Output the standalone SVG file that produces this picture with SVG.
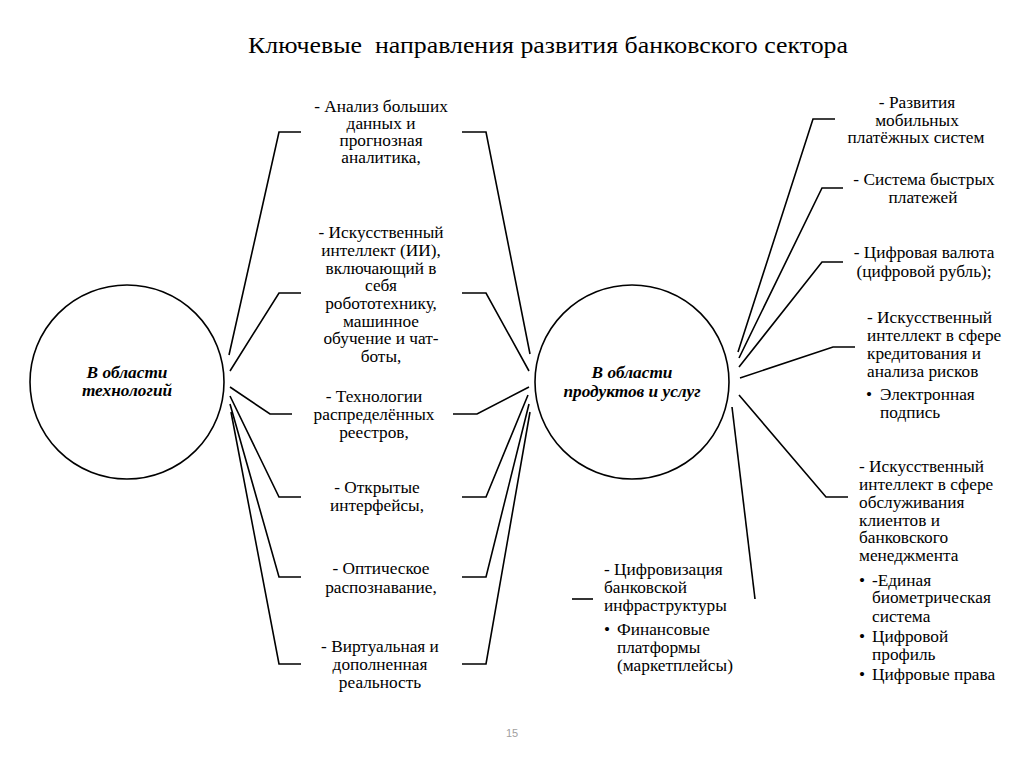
<svg xmlns="http://www.w3.org/2000/svg" width="1024" height="767" viewBox="0 0 1024 767">
<style>
text{font-family:"Liberation Serif","Times New Roman",serif;fill:#000}
.t{font-size:17.3px}
.c{text-anchor:middle}
.h{font-size:17.3px;font-weight:bold;font-style:italic;text-anchor:middle}
.ttl{font-size:24px;text-anchor:middle;white-space:pre}
.pg{font-family:"Liberation Sans",Arial,sans-serif;font-size:11px;fill:#a0a0a0;text-anchor:middle}
.ln{fill:none;stroke:#000;stroke-width:1.6;stroke-linejoin:miter}
.circ{fill:#fff;stroke:#000;stroke-width:1.6}
</style>
<rect width="1024" height="767" fill="#fff"/>
<text class="ttl" x="548" y="53" textLength="600" lengthAdjust="spacingAndGlyphs" xml:space="preserve">Ключевые  направления развития банковского сектора</text>

<g id="connectors">
<polyline class="ln" points="229,355 279,132 301,132"/>
<polyline class="ln" points="230,371 279,293 301,293"/>
<polyline class="ln" points="230,387 270,414 292,414"/>
<polyline class="ln" points="230,396 279,497 301,497"/>
<polyline class="ln" points="230,404 279,577 301,577"/>
<polyline class="ln" points="231,412 279,664 301,664"/>

<polyline class="ln" points="530,354 486,132 462,132"/>
<polyline class="ln" points="529,371 486,293 462,293"/>
<polyline class="ln" points="529,387 477,414 453,414"/>
<polyline class="ln" points="528,395 486,497 462,497"/>
<polyline class="ln" points="529,404 486,577 462,577"/>
<polyline class="ln" points="530,412 486,664 462,664"/>

<polyline class="ln" points="738,352 813,119 835,119"/>
<polyline class="ln" points="739,358 822,188 843,188"/>
<polyline class="ln" points="739,367 822,262 843,262"/>
<polyline class="ln" points="740,378 833,347 855,347"/>
<polyline class="ln" points="739,395 826,497 848,497"/>
<line class="ln" x1="732" y1="407" x2="755" y2="599"/>
<line class="ln" x1="572" y1="599" x2="593" y2="599"/>
</g>

<g id="node-tech">
<circle class="circ" cx="127" cy="382" r="97"/>
<text class="h" x="127" y="378">В области</text>
<text class="h" x="127" y="396">технологий</text>
</g>

<g id="node-products">
<circle class="circ" cx="632" cy="382" r="97"/>
<text class="h" x="632" y="378">В области</text>
<text class="h" x="632" y="397">продуктов и услуг</text>
</g>

<g id="item-bigdata">
<text class="t c" x="381" y="112">- Анализ больших</text>
<text class="t c" x="381" y="129">данных и</text>
<text class="t c" x="381" y="146">прогнозная</text>
<text class="t c" x="381" y="163">аналитика,</text>
</g>

<g id="item-ai">
<text class="t c" x="381" y="238">- Искусственный</text>
<text class="t c" x="381" y="256">интеллект (ИИ),</text>
<text class="t c" x="381" y="274">включающий в</text>
<text class="t c" x="381" y="291">себя</text>
<text class="t c" x="381" y="309">робототехнику,</text>
<text class="t c" x="381" y="327">машинное</text>
<text class="t c" x="381" y="344">обучение и чат-</text>
<text class="t c" x="381" y="362">боты,</text>
</g>

<g id="item-dlt">
<text class="t c" x="374" y="402">- Технологии</text>
<text class="t c" x="374" y="420">распределённых</text>
<text class="t c" x="374" y="438">реестров,</text>
</g>

<g id="item-api">
<text class="t c" x="377" y="493">- Открытые</text>
<text class="t c" x="377" y="511">интерфейсы,</text>
</g>

<g id="item-ocr">
<text class="t c" x="381" y="574">- Оптическое</text>
<text class="t c" x="381" y="593">распознавание,</text>
</g>

<g id="item-vr">
<text class="t c" x="380" y="652">- Виртуальная и</text>
<text class="t c" x="380" y="670">дополненная</text>
<text class="t c" x="380" y="688">реальность</text>
</g>

<g id="item-mobile">
<text class="t c" x="917" y="108">- Развития</text>
<text class="t c" x="917" y="126">мобильных</text>
<text class="t c" x="916" y="143">платёжных систем</text>
</g>

<g id="item-sbp">
<text class="t c" x="924" y="185">- Система быстрых</text>
<text class="t c" x="923" y="203">платежей</text>
</g>

<g id="item-cbdc">
<text class="t c" x="924" y="258">- Цифровая валюта</text>
<text class="t c" x="924" y="277">(цифровой рубль);</text>
</g>

<g id="item-ai-credit">
<text class="t" x="867" y="323">- Искусственный</text>
<text class="t" x="867" y="341">интеллект в сфере</text>
<text class="t" x="867" y="359">кредитования и</text>
<text class="t" x="867" y="377">анализа рисков</text>
<text class="t" x="866" y="400">•</text>
<text class="t" x="880" y="400">Электронная</text>
<text class="t" x="880" y="418">подпись</text>
</g>

<g id="item-ai-service">
<text class="t" x="859" y="472">- Искусственный</text>
<text class="t" x="859" y="490">интеллект в сфере</text>
<text class="t" x="859" y="508">обслуживания</text>
<text class="t" x="859" y="526">клиентов и</text>
<text class="t" x="859" y="543">банковского</text>
<text class="t" x="859" y="561">менеджмента</text>
<text class="t" x="859" y="586">•</text>
<text class="t" x="872" y="586">-Единая</text>
<text class="t" x="872" y="603">биометрическая</text>
<text class="t" x="872" y="622">система</text>
<text class="t" x="859" y="642">•</text>
<text class="t" x="872" y="642">Цифровой</text>
<text class="t" x="872" y="660">профиль</text>
<text class="t" x="859" y="680">•</text>
<text class="t" x="872" y="680">Цифровые права</text>
</g>

<g id="item-infra">
<text class="t" x="604" y="575">- Цифровизация</text>
<text class="t" x="604" y="593">банковской</text>
<text class="t" x="604" y="611">инфраструктуры</text>
<text class="t" x="604" y="635">•</text>
<text class="t" x="617" y="635">Финансовые</text>
<text class="t" x="617" y="653">платформы</text>
<text class="t" x="617" y="671">(маркетплейсы)</text>
</g>

<text class="pg" x="512" y="737">15</text>
</svg>
